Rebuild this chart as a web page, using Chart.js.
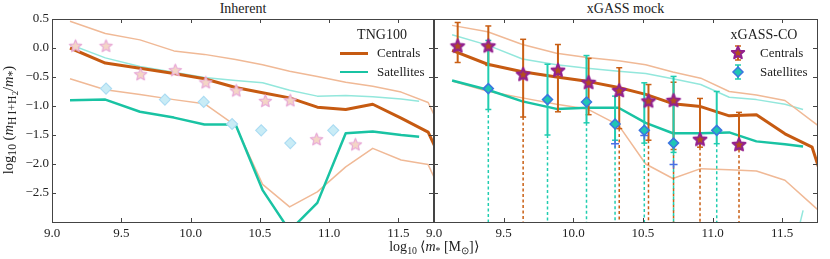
<!DOCTYPE html>
<html>
<head>
<meta charset="utf-8">
<script src="https://cdn.jsdelivr.net/npm/chart.js@4.4.1/dist/chart.umd.min.js"></script>
<style>
  body { margin: 0; background: #fff; }
  #wrap { position: relative; width: 830px; height: 259px; font-family: 'Liberation Serif', serif; color: #222; overflow: hidden; }
  canvas { position: absolute; top: 0; }
  .txt { position: absolute; white-space: nowrap; line-height: 16px; }
  .title { position: absolute; top: 1px; text-align: center; font-size: 14px; line-height: 16px; }
  .swatch { position: absolute; }
  sub { font-size: 70%; vertical-align: -3px; line-height: 0; }
  .ylab sub { font-size: 80%; }
  .ylab sub sub { font-size: 80%; vertical-align: -2px; }
</style>
</head>
<body>
<div id="wrap">
  <div class="title" style="left:52px;width:382px;">Inherent</div>
  <div class="title" style="left:434px;width:383px;">xGASS mock</div>

  <canvas id="cInh" width="440" height="259" style="left:0;"></canvas>
  <canvas id="cMock" width="410" height="259" style="left:420px;"></canvas>

  <!-- legend: TNG100 -->
  <div class="txt" style="left:332px;width:100px;text-align:center;top:27px;font-size:14px;">TNG100</div>
  <div class="swatch" style="left:340px;top:51.5px;width:28px;height:3px;background:#c65a11;"></div>
  <div class="txt" style="left:377px;top:45px;font-size:13px;">Centrals</div>
  <div class="swatch" style="left:340px;top:70.5px;width:28px;height:2.5px;background:#19c3a3;"></div>
  <div class="txt" style="left:377px;top:64px;font-size:13px;">Satellites</div>

  <!-- legend: xGASS-CO -->
  <div class="txt" style="left:714px;width:100px;text-align:center;top:27px;font-size:14px;">xGASS-CO</div>
  <canvas id="lgStar" width="20" height="20" style="left:728px;top:43px;"></canvas>
  <div class="txt" style="left:760px;top:45px;font-size:13px;">Centrals</div>
  <canvas id="lgDia" width="20" height="20" style="left:728px;top:62px;"></canvas>
  <div class="txt" style="left:760px;top:64px;font-size:13px;">Satellites</div>

  <!-- axis labels -->
  <div class="txt" style="left:334px;width:200px;text-align:center;top:239px;font-size:14px;">log<sub>10</sub> ⟨<i>m</i><sub>*</sub> [M<sub>⊙</sub>]⟩</div>
  <div class="txt ylab" style="left:-92px;width:200px;text-align:center;top:112px;font-size:14.5px;transform:rotate(-90deg);">log<sub>10</sub> (<i>m</i><sub>H&#8201;I+H<sub>2</sub></sub>/<i>m</i><sub>*</sub>)</div>
</div>

<script>
// TNG100 median lines and 16/84 percentiles
const tngX = [9.13, 9.385, 9.635, 9.88, 10.1, 10.325, 10.52, 10.715, 10.915, 11.12, 11.315, 11.52, 11.715, 11.9];
const tngSatX = [9.13, 9.385, 9.635, 9.88, 10.1, 10.325, 10.52, 10.715, 10.915, 11.12, 11.315, 11.52, 11.65];

// Inherent panel
const inhCen   = [0.0, -0.26, -0.35, -0.44, -0.53, -0.68, -0.77, -0.86, -1.02, -1.06, -0.97, -1.21, -1.45, -2.4];
const inhCenHi = [0.46, 0.25, 0.14, -0.05, -0.11, -0.20, -0.29, -0.40, -0.49, -0.59, -0.66, -0.76, -0.94, -1.85];
const inhCenLo = [-0.53, -0.72, -0.80, -0.89, -0.96, -1.34, -2.35, -2.74, -2.48, -2.05, -1.73, -1.93, -2.01, -2.95];
const inhSat   = [-0.90, -0.89, -1.10, -1.20, -1.32, -1.32, -2.45, -3.15, -2.67, -1.47, -1.44, -1.50, -1.53];
const inhSatHi = [0.06, -0.17, -0.32, -0.42, -0.51, -0.56, -0.60, -0.73, -0.83, -0.82, -0.84, -0.88, -0.92];

// xGASS mock panel
const mockCen   = [-0.04, -0.28, -0.41, -0.50, -0.575, -0.68, -0.80, -0.96, -1.01, -1.17, -1.15, -1.48, -1.71, -3.1];
const mockCenHi = [0.39, 0.28, 0.06, -0.09, -0.165, -0.22, -0.29, -0.415, -0.52, -0.75, -0.81, -0.905, -1.26, -1.6];
const mockCenLo = [-0.57, -0.745, -0.86, -0.97, -1.05, -1.33, -2.0, -2.25, -2.08, -2.10, -2.12, -2.28, -2.70, -3.1];
const mockSat   = [-0.56, -0.72, -0.92, -1.05, -1.03, -1.03, -1.29, -1.47, -1.47, -1.455, -1.61, -1.66, -1.70];
const mockSatHi = [0.23, 0.05, -0.19, -0.29, -0.35, -0.40, -0.44, -0.53, -0.63, -0.85, -0.89, -0.97, -1.06];
const mockSatLoX = [11.52, 11.65];
const mockSatLo  = [-4.1, -2.8];

// xGASS-CO observations
const obsCenX  = [9.17, 9.39, 9.64, 9.89, 10.11, 10.33, 10.54, 10.72, 10.91, 11.19];
const obsCenY  = [0.03, 0.03, -0.46, -0.39, -0.60, -0.74, -0.92, -0.91, -1.58, -1.67];
const obsCenHi = [0.44, 0.38, 0.15, 0.06, -0.18, -0.34, -0.63, -0.59, -0.87, -1.11];
const obsCenLo = [-0.25, -0.30, -1.19, -1.10, -1.15, -1.39, -1.59, -1.75, -1.71, -1.75];
const obsCenLim = [0, 0, 1, 0, 0, 1, 1, 1, 1, 1];

const obsSatX  = [9.39, 9.815, 10.095, 10.30, 10.51, 10.72, 11.03];
const obsSatY  = [-0.70, -0.89, -0.93, -1.31, -1.42, -1.64, -1.42];
const obsSatHi = [0.13, -0.28, -0.13, -0.83, -0.60, -0.49, -0.75];
const obsSatLo = [-1.06, -1.50, -1.29, -1.59, -1.64, -1.80, -1.65];
const obsSatLim = [1, 1, 1, 1, 1, 1, 1];

const plusX = [10.30, 10.51, 10.72];
const plusY = [-1.65, -1.51, -2.01];

const xTicks = [9.0, 9.5, 10.0, 10.5, 11.0, 11.5];
const yTicks = [0.5, 0.0, -0.5, -1.0, -1.5, -2.0, -2.5];

const cenDark = '#c65a11', satDark = '#19c3a3';
const cenLight = '#f0b996', satLight = '#93e7dc';
const cenBar = '#c95f14', satBar = '#20cdb0';
const Y_MIN = -3, Y_MAX = 0.5;

Chart.defaults.font.family = "'Liberation Serif', serif";
Chart.defaults.color = '#222';

function makeStar(r, fill, stroke, lw) {
  const s = Math.ceil(2 * r + lw + 2);
  const c = document.createElement('canvas');
  c.width = s; c.height = s;
  const g = c.getContext('2d');
  drawStar(g, s / 2, s / 2, r, fill, stroke, lw);
  return c;
}
function drawStar(g, cx, cy, r, fill, stroke, lw) {
  g.beginPath();
  for (let k = 0; k < 10; k++) {
    const a = -Math.PI / 2 + k * Math.PI / 5;
    const rr = k % 2 ? r * 0.45 : r;
    const px = cx + rr * Math.cos(a), py = cy + rr * Math.sin(a);
    k ? g.lineTo(px, py) : g.moveTo(px, py);
  }
  g.closePath();
  g.fillStyle = fill; g.fill();
  g.lineWidth = lw; g.strokeStyle = stroke; g.lineJoin = 'round'; g.stroke();
}

const starFaint = makeStar(6.5, '#f4d6c6', '#e7a8d6', 1.2);
const starObs = makeStar(6.8, '#b4501e', '#93208f', 2);

function pts(xs, ys) { return xs.map((x, i) => ({ x: x, y: ys[i] })); }

function lineDs(xs, ys, color, width, order) {
  return { data: pts(xs, ys), showLine: true, borderColor: color, borderWidth: width,
           pointRadius: 0, order: order, borderJoinStyle: 'round', borderCapStyle: 'butt' };
}

function errorDs(xs, lo, hi, lim, color) {
  const out = [];
  xs.forEach((x, i) => {
    out.push({ data: [{ x: x, y: lo[i] }, { x: x, y: hi[i] }], showLine: true,
               borderColor: color, borderWidth: 2, pointStyle: 'line', pointRadius: 3,
               pointBorderColor: color, pointBorderWidth: 1.5, order: 1 });
    if (lim[i]) {
      out.push({ data: [{ x: x, y: lo[i] }, { x: x, y: Y_MIN }], showLine: true,
                 borderColor: color, borderWidth: 1.5, borderDash: [3, 2.5], pointRadius: 0, order: 1 });
    }
  });
  return out;
}

// inward ticks on all four sides + frame
const frameTicks = {
  id: 'frameTicks',
  afterDraw(chart) {
    const ctx = chart.ctx, a = chart.chartArea;
    const sx = chart.scales.x, sy = chart.scales.y;
    ctx.save();
    ctx.strokeStyle = '#444';
    ctx.lineWidth = 1;
    ctx.beginPath();
    xTicks.forEach(v => {
      const p = Math.round(sx.getPixelForValue(v)) + 0.5;
      ctx.moveTo(p, a.bottom); ctx.lineTo(p, a.bottom - 4);
      ctx.moveTo(p, a.top); ctx.lineTo(p, a.top + 4);
    });
    yTicks.forEach(v => {
      const p = Math.round(sy.getPixelForValue(v)) + 0.5;
      ctx.moveTo(a.left, p); ctx.lineTo(a.left + 4, p);
      ctx.moveTo(a.right, p); ctx.lineTo(a.right - 4, p);
    });
    ctx.stroke();
    ctx.strokeRect(Math.round(a.left) + 0.5, Math.round(a.top) + 0.5,
                   Math.round(a.right - a.left), Math.round(a.bottom - a.top));
    ctx.restore();
  }
};

function makePanel(id, datasets, yWidth, padRight, showY) {
  return new Chart(document.getElementById(id), {
    type: 'scatter',
    data: { datasets: datasets },
    options: {
      responsive: false,
      animation: false,
      events: [],
      layout: { padding: { left: 0, right: padRight, top: 19, bottom: 0 } },
      plugins: { legend: { display: false }, tooltip: { enabled: false } },
      scales: {
        x: {
          type: 'linear', min: 9, max: 11.75,
          afterBuildTicks: s => { s.ticks = xTicks.map(v => ({ value: v })); },
          afterFit: s => { s.height = 37; },
          grid: { display: false, drawTicks: false }, border: { display: false },
          ticks: { maxRotation: 0, autoSkip: false, padding: 4, font: { size: 13 },
                   callback: v => v.toFixed(1) }
        },
        y: {
          type: 'linear', min: Y_MIN, max: Y_MAX,
          afterBuildTicks: s => { s.ticks = yTicks.map(v => ({ value: v })); },
          afterFit: s => { s.width = yWidth; },
          grid: { display: false, drawTicks: false }, border: { display: false },
          ticks: { display: showY, padding: 3, font: { size: 13 },
                   callback: v => (v < 0 ? '\u2212' : '') + Math.abs(v).toFixed(1) }
        }
      }
    },
    plugins: [frameTicks]
  });
}

// left panel: Inherent
const inhSets = [
  { data: pts(obsCenX, obsCenY), pointStyle: starFaint, pointRadius: 6, order: 0 },
  { data: pts(obsSatX, obsSatY), pointStyle: 'rectRot', pointRadius: 5.5,
    backgroundColor: '#c9ecf6', borderColor: '#acdcf3', borderWidth: 1.2, order: 0 },
  lineDs(tngX, inhCen, cenDark, 3, 2),
  lineDs(tngSatX, inhSat, satDark, 2.5, 2),
  lineDs(tngX, inhCenHi, cenLight, 1.5, 3),
  lineDs(tngX, inhCenLo, cenLight, 1.5, 3),
  lineDs(tngSatX, inhSatHi, satLight, 1.5, 3)
];
makePanel('cInh', inhSets, 52, 6, true);

// right panel: xGASS mock
const mockSets = [
  { data: pts(obsCenX, obsCenY), pointStyle: starObs, pointRadius: 6, order: 0 },
  { data: pts(obsSatX, obsSatY), pointStyle: 'rectRot', pointRadius: 5,
    backgroundColor: '#1fc6b4', borderColor: '#3b76e0', borderWidth: 1.5, order: 0 },
  { data: pts(plusX, plusY), pointStyle: 'cross', pointRadius: 4,
    borderColor: '#4a6fe6', borderWidth: 1.5, order: 0 },
  ...errorDs(obsSatX, obsSatLo, obsSatHi, obsSatLim, satBar),
  ...errorDs(obsCenX, obsCenLo, obsCenHi, obsCenLim, cenBar),
  lineDs(tngX, mockCen, cenDark, 3, 2),
  lineDs(tngSatX, mockSat, satDark, 2.5, 2),
  lineDs(tngX, mockCenHi, cenLight, 1.5, 3),
  lineDs(tngX, mockCenLo, cenLight, 1.5, 3),
  lineDs(tngSatX, mockSatHi, satLight, 1.5, 3),
  lineDs(mockSatLoX, mockSatLo, satLight, 1.5, 3)
];
makePanel('cMock', mockSets, 14, 13, false);

// legend symbols for xGASS-CO
(function () {
  let g = document.getElementById('lgStar').getContext('2d');
  g.strokeStyle = cenBar; g.lineWidth = 2;
  g.beginPath(); g.moveTo(10, 3); g.lineTo(10, 17); g.stroke();
  g.lineWidth = 1.5;
  g.beginPath(); g.moveTo(7, 3); g.lineTo(13, 3); g.moveTo(7, 17); g.lineTo(13, 17); g.stroke();
  drawStar(g, 10, 10, 6.5, '#b4501e', '#93208f', 2);

  g = document.getElementById('lgDia').getContext('2d');
  g.strokeStyle = satBar; g.lineWidth = 2;
  g.beginPath(); g.moveTo(10, 3); g.lineTo(10, 17); g.stroke();
  g.lineWidth = 1.5;
  g.beginPath(); g.moveTo(7, 3); g.lineTo(13, 3); g.moveTo(7, 17); g.lineTo(13, 17); g.stroke();
  g.beginPath(); g.moveTo(10, 5); g.lineTo(15, 10); g.lineTo(10, 15); g.lineTo(5, 10); g.closePath();
  g.fillStyle = '#1fc6b4'; g.fill(); g.strokeStyle = '#3b76e0'; g.lineWidth = 1.5; g.stroke();
})();
</script>
</body>
</html>
